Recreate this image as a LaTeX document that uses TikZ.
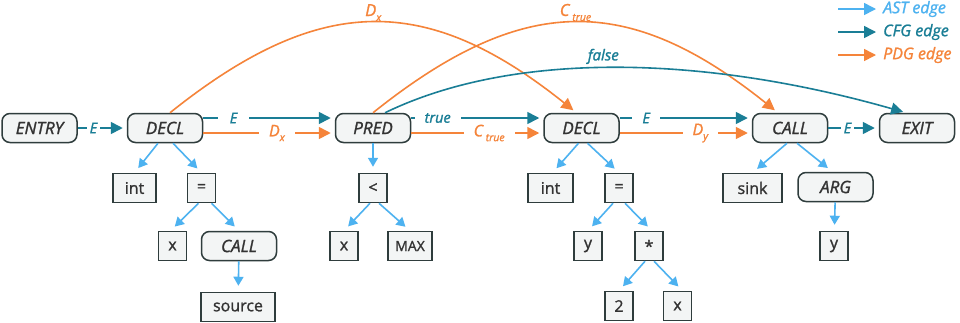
\documentclass[tikz,border=0pt]{standalone}
\usepackage{fontspec}
\setmainfont{Open Sans}[FakeBold=1.4]
\usetikzlibrary{arrows.meta}
\definecolor{astc}{HTML}{4DB2F0}
\definecolor{cfgc}{HTML}{1A7E96}
\definecolor{pdgc}{HTML}{F5843A}
\definecolor{nodeline}{HTML}{2F3D3D}
\definecolor{nodefill}{HTML}{F3F5F5}
\definecolor{nodetext}{HTML}{333333}
\newcommand{\myfs}[1]{\fontsize{#1}{#1}\selectfont}
\newcommand{\lsub}[1]{\raisebox{-0.3em}{\myfs{10.5}#1}}
\begin{document}
\begin{tikzpicture}[x=1pt,y=-1pt,
  stmt/.style={draw=nodeline, fill=nodefill, line width=1.5pt, rounded corners=8pt,
    minimum width=75pt, minimum height=29pt, inner sep=0pt, text=nodetext, font=\myfs{17}\itshape},
  leaf/.style={draw=nodeline, fill=nodefill, line width=1.5pt, minimum width=28pt,
    minimum height=29pt, inner sep=0pt, text=nodetext, font=\myfs{16}},
  ast/.style={draw=astc, line width=1.6pt, -{Triangle[length=9pt,width=10pt]}, shorten >=6pt},
  cfg/.style={draw=cfgc, line width=1.6pt, -{Triangle[length=12pt,width=12pt]}, shorten >=4pt},
  pdg/.style={draw=pdgc, line width=1.6pt, -{Triangle[length=12pt,width=12pt]}, shorten >=4pt},
  legarr/.style={line width=1.6pt, -{Triangle[length=12pt,width=12pt]}},
  clbl/.style={fill=white, text=cfgc, font=\myfs{14.5}\itshape, inner ysep=1pt, inner xsep=10pt},
  plbl/.style={fill=white, text=pdgc, font=\myfs{16}\itshape, inner ysep=1pt, inner xsep=10pt},
  ctext/.style={text=cfgc, font=\myfs{15}\itshape, inner sep=1pt},
  ptext/.style={text=pdgc, font=\myfs{16.5}\itshape, inner sep=1pt},
  legtext/.style={anchor=west, font=\myfs{16}\itshape, inner sep=0pt},
]
\fill[white] (0,0) rectangle (960,322);
\useasboundingbox (0,0) rectangle (960,322);

% statement nodes
\node[stmt] (entry) at (39.5,128) {ENTRY};
\node[stmt] (decl1) at (165,128) {DECL};
\node[stmt] (pred)  at (373,128) {PRED};
\node[stmt] (decl2) at (581.5,128) {DECL};
\node[stmt] (call)  at (790,128) {CALL};
\node[stmt] (exit)  at (917,128) {EXIT};

% AST nodes
\node[leaf, minimum width=43pt] (int1) at (134.5,188) {int};
\node[leaf] (eq1) at (201.5,188) {=};
\node[leaf] (x1) at (172.5,246) {x};
\node[stmt] (call2) at (239,246) {CALL};
\node[leaf, minimum width=74pt] (src) at (238,307) {source};
\node[leaf] (lt) at (373,188) {<};
\node[leaf] (x2) at (344,246) {x};
\node[leaf, minimum width=44pt, font=\myfs{14}] (max) at (410,246) {MAX};
\node[leaf, minimum width=45pt] (int2) at (550.5,188) {int};
\node[leaf] (eq2) at (619,188) {=};
\node[leaf] (y1) at (588,246) {y};
\node[leaf] (star) at (649,246) {*};
\node[leaf] (two) at (619,306) {2};
\node[leaf] (x3) at (677.5,306) {x};
\node[leaf, minimum width=59pt] (sink) at (752.5,188) {sink};
\node[stmt] (arg) at (835.5,187) {ARG};
\node[leaf] (y2) at (834,246) {y};

% AST edges
\draw[ast] ([xshift=-7pt]decl1.south) -- (int1.north);
\draw[ast] ([xshift=8pt]decl1.south) -- (eq1.north);
\draw[ast] ([xshift=-3pt]eq1.south) -- ([xshift=-2pt]x1.north);
\draw[ast] ([xshift=10pt]eq1.south) -- (call2.north);
\draw[ast] (call2) -- (src);
\draw[ast] (pred) -- (lt);
\draw[ast] ([xshift=-3pt]lt.south) -- (x2.north);
\draw[ast] ([xshift=6pt]lt.south) -- (max.north);
\draw[ast] ([xshift=-3pt]decl2.south) -- ([xshift=2pt]int2.north);
\draw[ast] ([xshift=6pt]decl2.south) -- (eq2.north);
\draw[ast] ([xshift=-6pt]eq2.south) -- (y1.north);
\draw[ast] ([xshift=6pt]eq2.south) -- ([xshift=3pt]star.north);
\draw[ast] ([xshift=-4pt]star.south) -- (two.north);
\draw[ast] ([xshift=5pt]star.south) -- ([xshift=5pt]x3.north);
\draw[ast] ([xshift=-3pt]call.south) -- (sink.north);
\draw[ast] ([xshift=7pt]call.south) -- ([xshift=-3pt]arg.north);
\draw[ast] (arg) -- (y2);

% CFG / PDG straight edges
\draw[cfg] (entry) -- node[clbl, pos=0.32, inner xsep=3pt] {E} (decl1);
\draw[cfg] ([yshift=10pt]decl1.east) -- node[clbl, pos=0.23, inner xsep=12pt] {E} ([yshift=10pt]pred.west);
\draw[pdg] ([yshift=-5pt]decl1.east) -- node[plbl, pos=0.56] {D\lsub{x}} ([yshift=-5pt]pred.west);
\draw[cfg] ([yshift=10pt]pred.east) -- node[clbl, pos=0.2] {true} ([yshift=10pt]decl2.west);
\draw[pdg] ([yshift=-5pt]pred.east) -- node[plbl, pos=0.59] {C\,\lsub{true}} ([yshift=-5pt]decl2.west);
\draw[cfg] ([yshift=10pt]decl2.east) -- node[clbl, pos=0.2] {E} ([yshift=10pt]call.west);
\draw[pdg] ([yshift=-5pt]decl2.east) -- node[plbl, pos=0.61] {D\lsub{y}} ([yshift=-5pt]call.west);
\draw[cfg] (call) -- node[clbl, pos=0.38, inner xsep=3pt] {E} (exit);

% arcs
\draw[pdg] ([xshift=5pt]decl1.north) .. controls +(150,-120) and +(-150,-120) .. ([xshift=-5pt]decl2.north)
  node[ptext, pos=0.5, above=0pt] {D\lsub{x}};
\draw[pdg] (pred.north) .. controls +(150,-120) and +(-150,-120) .. ([xshift=-12pt]call.north)
  node[ptext, pos=0.5, above=0pt] {C\,\lsub{true}};
\draw[cfg, shorten >=3pt] ([xshift=12pt]pred.north) .. controls +(130,-63) and +(-200,-57) .. ([xshift=-11pt]exit.north)
  node[ctext, pos=0.47, above=2pt] {false};

% legend
\coordinate (ls1) at (838,9);  \coordinate (le1) at (876,9);
\coordinate (ls2) at (838,32); \coordinate (le2) at (876,32);
\coordinate (ls3) at (838,55); \coordinate (le3) at (876,55);
\draw[legarr, draw=astc, fill=astc] (ls1) -- (le1);
\draw[legarr, draw=cfgc, fill=cfgc] (ls2) -- (le2);
\draw[legarr, draw=pdgc, fill=pdgc] (ls3) -- (le3);
\node[legtext, text=astc] (lg1) at (883,9) {AST edge};
\node[legtext, text=cfgc] (lg2) at (883,32) {CFG edge};
\node[legtext, text=pdgc] (lg3) at (883,55) {PDG edge};
\end{tikzpicture}
\end{document}
